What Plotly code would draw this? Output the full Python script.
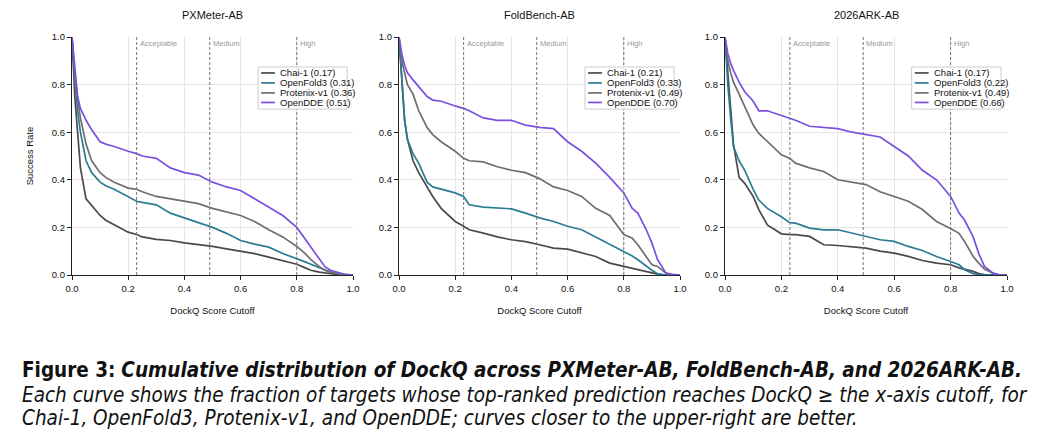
import plotly.graph_objects as go

# ---------------- data ----------------
panels = ["PXMeter-AB", "FoldBench-AB", "2026ARK-AB"]
series = ["Chai-1", "OpenFold3", "Protenix-v1", "OpenDDE"]
colors = ["#4a4a4a", "#2b7b95", "#6e6e72", "#7b4fe0"]

x_cut = [0, 0.01, 0.02, 0.03, 0.05, 0.07, 0.10, 0.12, 0.15, 0.20, 0.23, 0.25, 0.30, 0.35,
         0.40, 0.45, 0.50, 0.55, 0.60, 0.65, 0.70, 0.75, 0.80, 0.83, 0.85, 0.88, 0.90,
         0.92, 0.95, 0.97, 1.0]

px_chai = [1.0, .75, .60, .45, .32, .29, .25, .23, .21, .18, .17, .16, .15, .145, .135, .128, .12, .11, .10, .09, .075, .06, .045, .03, .02, .012, .008, .004, .001, 0, 0]
px_of3 = [1.0, .82, .69, .60, .48, .43, .39, .375, .36, .33, .31, .305, .295, .26, .24, .22, .20, .175, .145, .13, .117, .09, .07, .055, .045, .03, .02, .012, .005, .002, 0]
px_ptx = [1.0, .84, .74, .66, .55, .48, .43, .41, .39, .365, .36, .35, .33, .32, .31, .30, .28, .265, .25, .225, .19, .16, .12, .09, .065, .035, .02, .012, .005, .002, 0]
px_dde = [1.0, .88, .75, .70, .65, .61, .56, .55, .54, .52, .51, .50, .49, .45, .43, .42, .39, .37, .355, .32, .285, .25, .20, .15, .12, .065, .035, .02, .008, .003, 0]

fb_chai = [1.0, .82, .65, .57, .48, .43, .37, .33, .28, .225, .205, .19, .176, .16, .148, .14, .127, .113, .109, .092, .078, .05, .036, .03, .022, .013, .008, .004, 0, 0, 0]
fb_of3 = [1.0, .82, .65, .57, .51, .47, .39, .37, .36, .345, .33, .295, .285, .28, .278, .26, .24, .225, .205, .19, .16, .127, .10, .08, .064, .036, .02, .005, 0, 0, 0]
fb_ptx = [1.0, .90, .85, .80, .76, .69, .62, .59, .56, .52, .49, .48, .475, .455, .44, .43, .405, .37, .355, .33, .28, .25, .17, .155, .127, .078, .043, .036, .008, .003, 0]
fb_dde = [1.0, .93, .88, .85, .82, .79, .75, .735, .73, .71, .70, .69, .66, .65, .65, .63, .62, .615, .56, .52, .47, .41, .345, .28, .26, .19, .135, .065, .008, .003, 0]

ark_chai = [1.0, .85, .70, .55, .41, .385, .33, .275, .21, .173, .17, .17, .162, .127, .124, .12, .113, .10, .092, .078, .061, .05, .043, .03, .025, .015, .006, .002, 0, 0, 0]
ark_of3 = [1.0, .80, .66, .54, .48, .44, .36, .315, .28, .245, .22, .218, .197, .19, .19, .176, .16, .148, .141, .12, .103, .078, .057, .043, .022, .006, .002, 0, 0, 0, 0]
ark_ptx = [1.0, .90, .85, .81, .76, .71, .63, .595, .56, .505, .49, .47, .45, .435, .40, .39, .38, .35, .33, .31, .275, .225, .195, .175, .14, .078, .05, .025, .008, .002, 0]
ark_dde = [1.0, .93, .89, .86, .81, .77, .73, .69, .69, .67, .66, .65, .625, .62, .615, .60, .59, .58, .54, .50, .44, .40, .33, .26, .23, .16, .09, .036, .008, .002, 0]

curves = [[px_chai, px_of3, px_ptx, px_dde],
          [fb_chai, fb_of3, fb_ptx, fb_dde],
          [ark_chai, ark_of3, ark_ptx, ark_dde]]
scores = [[0.17, 0.31, 0.36, 0.51],
          [0.21, 0.33, 0.49, 0.70],
          [0.17, 0.22, 0.49, 0.66]]

thresholds = [0.23, 0.49, 0.80]
threshold_labels = ["Acceptable", "Medium", "High"]

x_ticks = [0.0, 0.2, 0.4, 0.6, 0.8, 1.0]

# ---------------- layout ----------------
W, H = 1046, 439
x_domains = [(72 / W, 353 / W), (399 / W, 680 / W), (725 / W, 1007 / W)]
y_domain = (1 - 275 / H, 1 - 37 / H)

FONT = "Liberation Sans, Arial, Helvetica, sans-serif"
fig = go.Figure()
shapes = []
annotations = []

for p in range(3):
    ax = "" if p == 0 else str(p + 1)
    xr, yr = "x" + ax, "y" + ax
    for s in range(4):
        fig.add_trace(go.Scatter(
            x=x_cut, y=curves[p][s], mode="lines", name=series[s],
            line=dict(color=colors[s], width=1.7), xaxis=xr, yaxis=yr,
            showlegend=False, hoverinfo="skip"))
    axis_common = dict(range=[0, 1], showgrid=True, gridcolor="#e6e6e6", gridwidth=1,
                       showline=True, linecolor="#222", linewidth=1.2, ticks="outside",
                       ticklen=4, tickcolor="#222", tickvals=x_ticks, tickformat=".1f",
                       tickfont=dict(size=9.5, color="#111", family=FONT), zeroline=False,
                       automargin=False)
    fig.layout["xaxis" + ax] = dict(axis_common, domain=list(x_domains[p]), anchor=yr,
                                    title=dict(text="DockQ Score Cutoff",
                                               font=dict(size=9.5, color="#111", family=FONT),
                                               standoff=14))
    fig.layout["yaxis" + ax] = dict(axis_common, domain=list(y_domain), anchor=xr,
                                    title=dict(text="Success Rate" if p == 0 else "",
                                               font=dict(size=9.5, color="#111", family=FONT),
                                               standoff=16))
    # panel title
    annotations.append(dict(text=panels[p], xref=xr + " domain", yref="paper",
                            x=0.5, y=1 - 15 / H, showarrow=False, xanchor="center",
                            yanchor="middle", font=dict(size=11, color="#111", family=FONT)))
    # thresholds
    for t, lab in zip(thresholds, threshold_labels):
        shapes.append(dict(type="line", xref=xr, yref=yr, x0=t, x1=t, y0=0, y1=1,
                           line=dict(color="#777", width=1, dash="3px,2px"), layer="above"))
        annotations.append(dict(text=lab, xref=xr, yref=yr, x=t + 0.004, y=0.972,
                                showarrow=False, xanchor="left", yanchor="middle",
                                font=dict(size=7.5, color="#999", family=FONT)))
    # legend box (drawn in data coordinates of panel)
    shapes.append(dict(type="rect", xref=xr, yref=yr, x0=0.662, x1=0.979, y0=0.697, y1=0.874,
                       line=dict(color="#cccccc", width=1), fillcolor="rgba(255,255,255,0.9)",
                       layer="above"))
    row_y = [0.849, 0.807, 0.765, 0.725]
    for s in range(4):
        shapes.append(dict(type="line", xref=xr, yref=yr, x0=0.673, x1=0.722,
                           y0=row_y[s], y1=row_y[s], line=dict(color=colors[s], width=1.7),
                           layer="above"))
        annotations.append(dict(text=f"{series[s]} ({scores[p][s]:.2f})", xref=xr, yref=yr,
                                x=0.733, y=row_y[s], showarrow=False, xanchor="left",
                                yanchor="middle", font=dict(size=9.5, color="#111", family=FONT)))

# caption
CAP = "DejaVu Sans Condensed, DejaVu Sans, sans-serif"
captions = [
    ("<b>Figure 3:</b> <b><i>Cumulative distribution of DockQ across PXMeter-AB, FoldBench-AB, and 2026ARK-AB.</i></b>", 370),
    ("<i>Each curve shows the fraction of targets whose top-ranked prediction reaches DockQ \u2265 the x-axis cutoff, for</i>", 395),
    ("<i>Chai-1, OpenFold3, Protenix-v1, and OpenDDE; curves closer to the upper-right are better.</i>", 418),
]
for txt, yy in captions:
    annotations.append(dict(text=txt, xref="paper", yref="paper", x=20 / W, y=1 - yy / H,
                            showarrow=False, xanchor="left", yanchor="middle",
                            font=dict(size=20.5, color="#111", family=CAP)))

fig.update_layout(width=W, height=H, margin=dict(l=0, r=0, t=0, b=0, autoexpand=False),
                  paper_bgcolor="white", plot_bgcolor="white", showlegend=False,
                  shapes=shapes, annotations=annotations)
fig.write_html("out.html")
